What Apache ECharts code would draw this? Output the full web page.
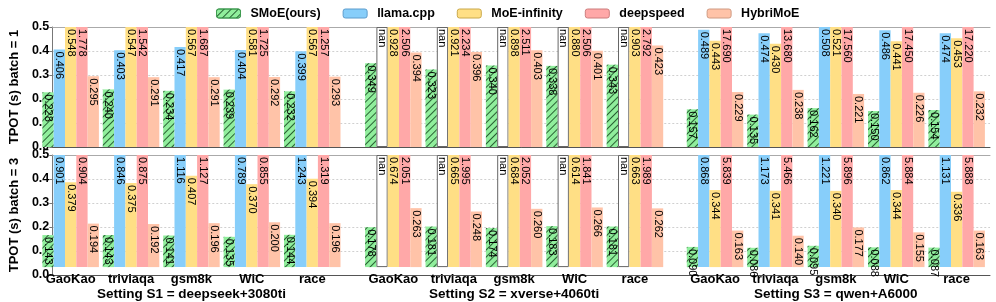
<!DOCTYPE html>
<html><head><meta charset="utf-8">
<script src="https://cdn.jsdelivr.net/npm/echarts@6/dist/echarts.min.js"></script>
<style>html,body{margin:0;padding:0;background:#fff}#c{width:996px;height:302px}</style>
</head><body><div id="c"></div>
<script>
const categories = ['GaoKao', 'triviaqa', 'gsm8k', 'WiC', 'race'];
const seriesNames = ['SMoE(ours)', 'llama.cpp', 'MoE-infinity', 'deepspeed', 'HybriMoE'];
const settingLabels = ['Setting S1 = deepseek+3080ti', 'Setting S2 = xverse+4060ti', 'Setting S3 = qwen+A6000'];
const rowLabels = ['TPOT (s) batch = 1', 'TPOT (s) batch = 3'];
const yMin = 0, yMax = 0.5, yStep = 0.1;

// batch = 1 : 15 values each (S1 x5, S2 x5, S3 x5)
const b1_SMoE   = [0.228, 0.240, 0.234, 0.239, 0.232,  0.349, 0.323, 0.340, 0.338, 0.343,  0.157, 0.135, 0.162, 0.150, 0.154];
const b1_llama  = [0.406, 0.403, 0.417, 0.404, 0.399,  NaN, NaN, NaN, NaN, NaN,              0.489, 0.474, 0.508, 0.486, 0.474];
const b1_moeinf = [0.548, 0.547, 0.567, 0.581, 0.567,  0.928, 0.921, 0.898, 0.880, 0.903,  0.443, 0.430, 0.521, 0.441, 0.453];
const b1_deep   = [1.778, 1.542, 1.687, 1.725, 1.257,  2.506, 2.234, 2.511, 2.506, 2.792,  17.690, 13.680, 17.560, 17.450, 17.220];
const b1_hybri  = [0.295, 0.291, 0.291, 0.292, 0.293,  0.394, 0.396, 0.403, 0.401, 0.423,  0.229, 0.238, 0.221, 0.226, 0.232];

// batch = 3
const b3_SMoE   = [0.143, 0.143, 0.141, 0.135, 0.144,  0.178, 0.181, 0.174, 0.183, 0.181,  0.090, 0.086, 0.095, 0.088, 0.087];
const b3_llama  = [0.901, 0.846, 1.116, 0.789, 1.243,  NaN, NaN, NaN, NaN, NaN,              0.868, 1.173, 1.221, 0.862, 1.131];
const b3_moeinf = [0.379, 0.375, 0.407, 0.370, 0.394,  0.674, 0.665, 0.684, 0.614, 0.663,  0.344, 0.341, 0.340, 0.344, 0.336];
const b3_deep   = [0.904, 0.875, 1.127, 0.855, 1.319,  2.051, 1.995, 2.052, 1.841, 1.989,  5.839, 5.466, 5.896, 5.884, 5.888];
const b3_hybri  = [0.194, 0.192, 0.196, 0.200, 0.196,  0.263, 0.248, 0.260, 0.266, 0.262,  0.163, 0.140, 0.177, 0.155, 0.163];

const rows = [
  [b1_SMoE, b1_llama, b1_moeinf, b1_deep, b1_hybri],
  [b3_SMoE, b3_llama, b3_moeinf, b3_deep, b3_hybri]
];

const colors = ['#90EE9C', '#87CEFA', '#FFDF85', '#FFA8A8', '#FFC3A8'];
const edgeColors = ['#3f9a50', '#5c9ccc', '#c9a84a', '#cc7c7c', '#cf9a82'];
const FONT = 'Liberation Sans';

const rowTop = [27, 155];
const rowH = 120;
const setLeft = [40.45, 363.15, 684.85];
const setW = 302;

const grids = [], xAxes = [], yAxes = [], series = [];

// background grids (axes + grid lines)
for (let r = 0; r < 2; r++) {
  grids.push({ left: 34, right: 6, top: rowTop[r], height: rowH });
  xAxes.push({ type: 'category', gridIndex: r, data: [''], position: 'bottom',
    axisLine: { show: true, lineStyle: { color: '#555', width: 1 } },
    axisTick: { show: false }, axisLabel: { show: false }, splitLine: { show: false } });
  xAxes.push({ type: 'category', gridIndex: r, data: [''], position: 'top',
    axisLine: { show: true, lineStyle: { color: '#aaa', width: 1 } },
    axisTick: { show: false }, axisLabel: { show: false }, splitLine: { show: false } });
  yAxes.push({ type: 'value', gridIndex: r, min: yMin, max: yMax, interval: yStep,
    name: rowLabels[r], nameLocation: 'middle', nameGap: 20,
    nameTextStyle: { fontFamily: FONT, fontWeight: 'bold', fontSize: 13, color: '#000' },
    axisLine: { show: true, lineStyle: { color: '#777' } },
    axisTick: { show: true, length: 3, lineStyle: { color: '#777' } },
    axisLabel: { fontFamily: FONT, fontWeight: 'bold', fontSize: 12.5, color: '#000', margin: 3,
      formatter: v => v.toFixed(1) },
    splitLine: { show: true, lineStyle: { color: '#d0d0d0', type: [2, 2], width: 1 } } });
}

for (let r = 0; r < 2; r++) {
  for (let s = 0; s < 3; s++) {
    const gi = grids.length;
    grids.push({ left: setLeft[s], width: setW, top: rowTop[r], height: rowH });
    const xi = xAxes.length;
    xAxes.push({ type: 'category', gridIndex: gi, data: categories,
      axisLine: { show: false }, axisTick: { show: false },
      axisLabel: { show: r === 1, interval: 0, hideOverlap: false, fontFamily: FONT, fontWeight: 'bold',
        fontSize: 13, color: '#000', margin: 6 },
      name: r === 1 ? settingLabels[s] : '', nameLocation: 'middle', nameGap: 16,
      nameTextStyle: { fontFamily: FONT, fontWeight: 'bold', fontSize: 13.5, color: '#000' } });
    const yi = yAxes.length;
    yAxes.push({ type: 'value', gridIndex: gi, min: yMin, max: yMax, show: false, splitLine: { show: false } });
    for (let k = 0; k < 5; k++) {
      const vals = rows[r][k].slice(s * 5, s * 5 + 5);
      const data = vals.map(v => {
        if (isNaN(v)) {
          return { value: yMax,
            itemStyle: { color: '#fff', borderColor: '#666', borderWidth: 1 },
            label: { formatter: 'nan' } };
        }
        return { value: v };
      });
      const itemStyle = { color: colors[k] };
      if (k === 0) {
        itemStyle.decal = { symbol: 'rect', symbolSize: 1, dashArrayX: [1, 0], dashArrayY: [1, 4],
          rotation: -Math.PI / 4, color: 'rgba(20,70,30,0.85)' };
      }
      series.push({
        type: 'bar', name: seriesNames[k], xAxisIndex: xi, yAxisIndex: yi,
        data: data, barWidth: 11.3, barGap: '0%', clip: true,
        itemStyle: itemStyle,
        label: { show: true, position: 'insideTop', rotate: -90, align: 'left', verticalAlign: 'middle',
          distance: 2, fontFamily: FONT, fontSize: 11, color: '#000',
          formatter: p => (typeof p.value === 'number' ? p.value.toFixed(3) : p.value) },
        emphasis: { disabled: true },
        animation: false
      });
    }
  }
}

const chart = echarts.init(document.getElementById('c'), null, { renderer: 'canvas' });
chart.setOption({
  animation: false,
  legend: {
    left: 216, top: 7, padding: 0, itemWidth: 24, itemHeight: 9, itemGap: 22,
    data: seriesNames.map((n, k) => ({ name: n, itemStyle: { borderColor: edgeColors[k], borderWidth: 1 } })),
    textStyle: { fontFamily: FONT, fontWeight: 'bold', fontSize: 12.5, color: '#000', padding: [0, 0, 0, 5] }
  },
  grid: grids, xAxis: xAxes, yAxis: yAxes, series: series
});
</script></body></html>
